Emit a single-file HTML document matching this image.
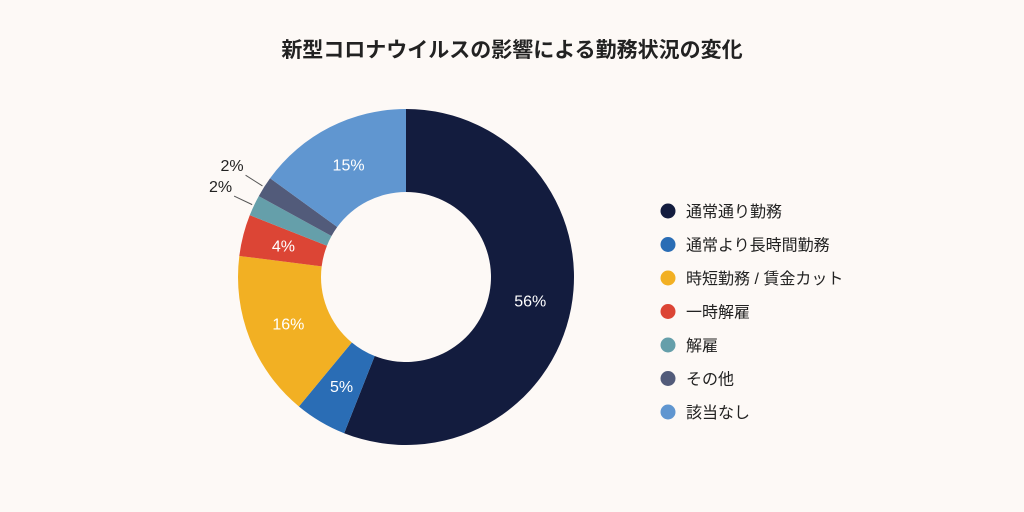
<!DOCTYPE html>
<html><head><meta charset="utf-8"><style>
html,body{margin:0;padding:0;background:#fdf9f6;}
svg{display:block;font-family:"Liberation Sans","Noto Sans CJK JP",sans-serif;}
</style></head><body>
<svg width="1024" height="512" viewBox="0 0 1024 512">
<text x="512" y="57" text-anchor="middle" font-size="21" font-weight="bold" fill="#222">新型コロナウイルスの影響による勤務状況の変化</text>
<g id="slices"></g>
<g id="legend"></g>
</svg>
<script>
const categories=["通常通り勤務","通常より長時間勤務","時短勤務 / 賃金カット","一時解雇","解雇","その他","該当なし"];
const values=[56,5,16,4,2,2,15];
const labels=["56%","5%","16%","4%","2%","2%","15%"];
const colors=["#131c3e","#2a6db5","#f2b023","#dc4535","#659faa","#525b7a","#6096d0"];
const NS="http://www.w3.org/2000/svg";
const cx=406,cy=277,R=168,r=85;
const total=values.reduce((a,b)=>a+b,0);
const sg=document.getElementById('slices');
function pt(a,rad){return [cx+rad*Math.sin(a),cy-rad*Math.cos(a)];}
let acc=0;
values.forEach((v,i)=>{
  const a0=acc/total*2*Math.PI;acc+=v;const a1=acc/total*2*Math.PI;
  const large=(a1-a0)>Math.PI?1:0;
  const [x0,y0]=pt(a0,R),[x1,y1]=pt(a1,R),[x2,y2]=pt(a1,r),[x3,y3]=pt(a0,r);
  const p=document.createElementNS(NS,'path');
  p.setAttribute('d',`M${x0},${y0}A${R},${R} 0 ${large} 1 ${x1},${y1}L${x2},${y2}A${r},${r} 0 ${large} 0 ${x3},${y3}Z`);
  p.setAttribute('fill',colors[i]);
  
  
  sg.appendChild(p);
  const am=(a0+a1)/2;
  const t=document.createElementNS(NS,'text');
  if(v/total>=0.03){
    const [tx,ty]=pt(am,(R+r)/2);
    t.setAttribute('x',tx);t.setAttribute('y',ty+6);t.setAttribute('fill','#fff');
    t.setAttribute('text-anchor','middle');
  }else{
    const [lx0,ly0]=pt(am,R+2),[lx1,ly1]=pt(am,R+22);
    const l=document.createElementNS(NS,'line');
    l.setAttribute('x1',lx0);l.setAttribute('y1',ly0);l.setAttribute('x2',lx1);l.setAttribute('y2',ly1);
    l.setAttribute('stroke','#555');l.setAttribute('stroke-width','1');
    
    
    sg.appendChild(l);
    t.setAttribute('x',lx1-2);t.setAttribute('y',ly1-4);t.setAttribute('fill','#222');
    t.setAttribute('text-anchor','end');
  }
  t.setAttribute('font-size','16');
  t.textContent=labels[i];
  
  
  sg.appendChild(t);
});
const lg=document.getElementById('legend');
categories.forEach((c,i)=>{
  const y=211+i*33.5;
  const g=document.createElementNS(NS,'g');
  
  
  const ci=document.createElementNS(NS,'circle');
  ci.setAttribute('cx',668);ci.setAttribute('cy',y);ci.setAttribute('r',7.5);ci.setAttribute('fill',colors[i]);
  g.appendChild(ci);
  const t=document.createElementNS(NS,'text');
  t.setAttribute('x',686);t.setAttribute('y',y+6);t.setAttribute('font-size','16');t.setAttribute('fill','#222');
  t.textContent=c;
  g.appendChild(t);
  lg.appendChild(g);
});
</script>
</body></html>
